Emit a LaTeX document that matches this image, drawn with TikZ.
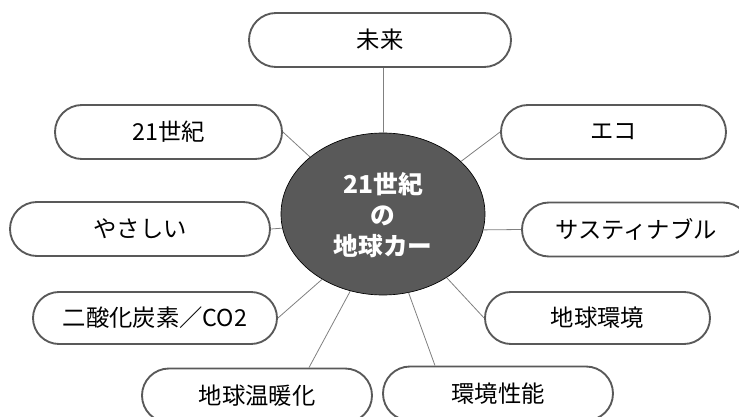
\documentclass[tikz,border=0pt]{standalone}
\usepackage{fontspec}
\newfontfamily\jp{Noto Sans CJK JP}
\usetikzlibrary{shapes.misc,shapes.geometric}
\definecolor{boxline}{HTML}{595959}
\definecolor{hubfill}{HTML}{595959}
\definecolor{conn}{HTML}{808080}
\begin{document}
\begin{tikzpicture}[x=0.75pt,y=-0.75pt,
  leaf/.style={rounded rectangle, draw=boxline, line width=1.4pt, fill=white,
    minimum height=40.5pt, inner sep=0pt, font=\jp\fontsize{17.5}{21}\selectfont},
  hub/.style={ellipse, draw=black, line width=0.5pt, fill=hubfill, inner sep=0pt,
    minimum width=153pt, minimum height=121.5pt},
  link/.style={draw=conn, line width=0.6pt}]
\useasboundingbox (0,0) rectangle (739,417);
\node[hub] (c) at (383,214) {};
\node[text=white, align=center, font=\jp\bfseries\fontsize{18.5}{23.25}\selectfont] (ct) at (383,215) {21世紀\\の\\地球カー};
\node[leaf, minimum width=196.5pt] (mirai) at (380,40) {未来};
\node[leaf, minimum width=170.25pt] (c21) at (168.5,132) {21世紀};
\node[leaf, minimum width=168.75pt] (eco) at (613.5,132) {エコ};
\node[leaf, minimum width=195pt] (yasa) at (140,229) {やさしい};
\node[leaf, minimum width=171pt] (sus) at (636,229.5) {サスティナブル};
\node[leaf, minimum width=183pt, minimum height=39pt] (co2) at (155,318) {二酸化炭素／CO2};
\node[leaf, minimum width=168.75pt, minimum height=39pt] (kankyo) at (597.5,318) {地球環境};
\node[leaf, minimum width=172.5pt] (ondan) at (257,395.5) {地球温暖化};
\node[leaf, minimum width=172.5pt] (seino) at (498,393.5) {環境性能};
\path[link] (c.90 |- mirai.south) -- (c.90);
\path[link] (c21.east) -- (c.142);
\path[link] (eco.west) -- (c.34);
\path[link] (yasa.east) -- (c.188);
\path[link] (sus.west) -- (c.351);
\path[link] (co2.east) -- (c.227);
\path[link] (kankyo.west) -- (c.315);
\path[link] ([xshift=39pt]ondan.north) -- (c.247);
\path[link] ([xshift=-47.25pt]seino.north) -- (c.288);
\end{tikzpicture}
\end{document}
